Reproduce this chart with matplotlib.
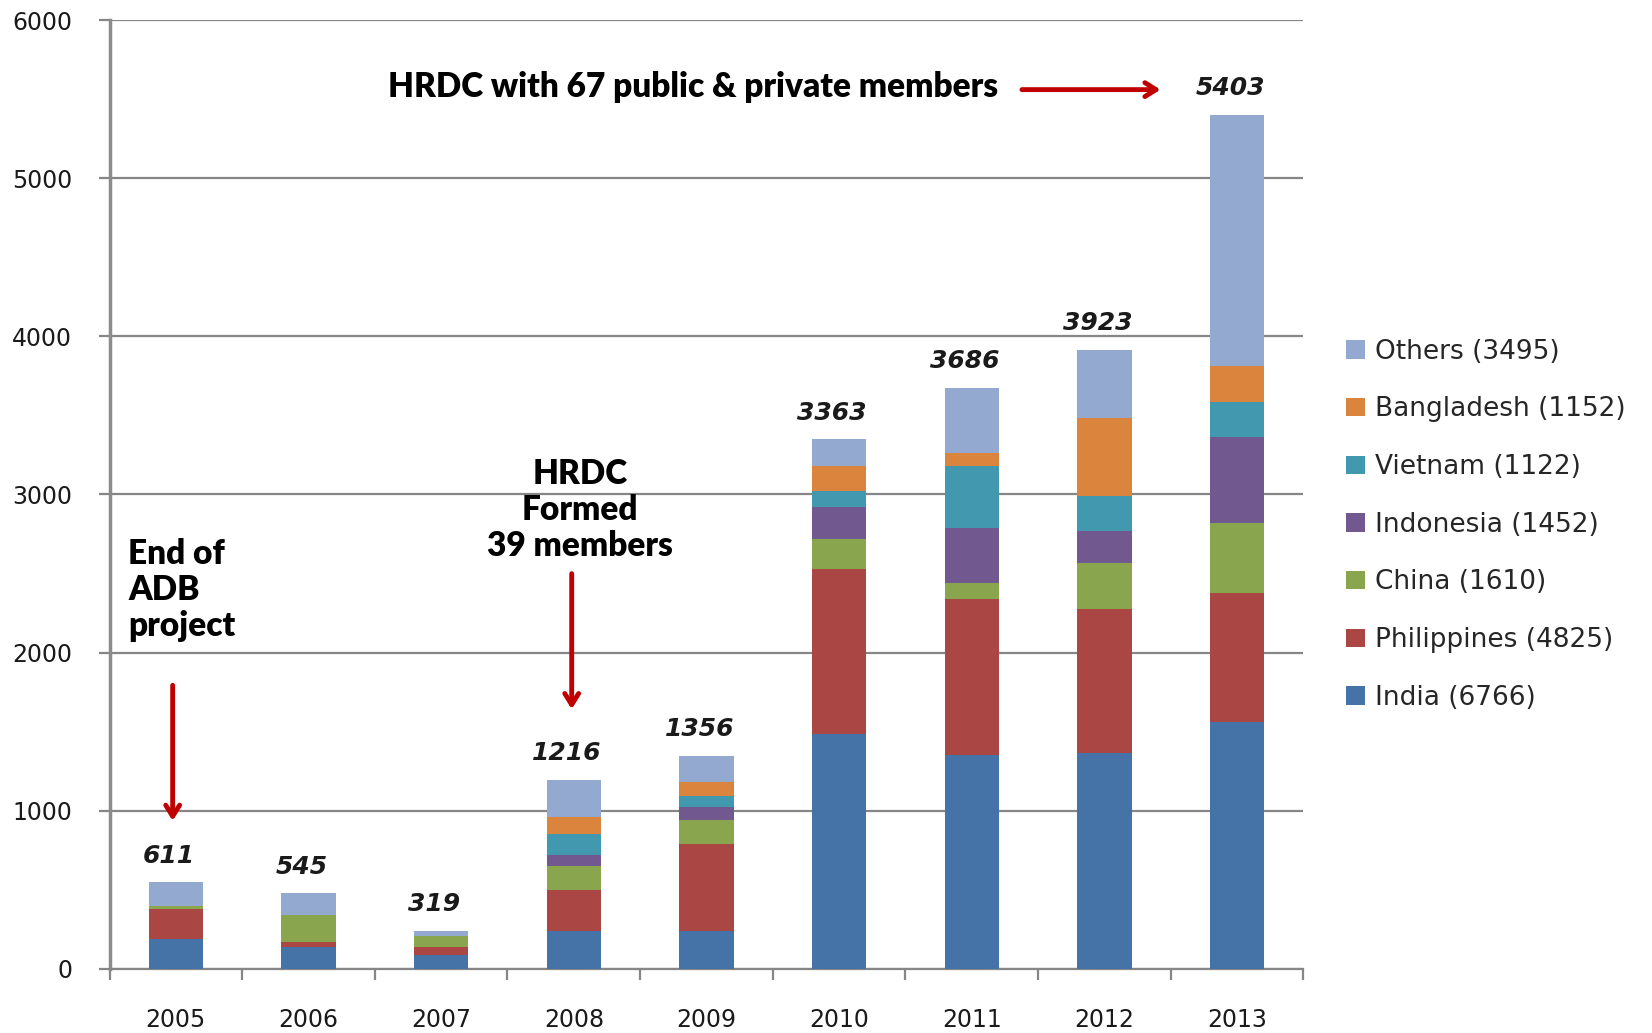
import matplotlib
matplotlib.use("Agg")
import matplotlib.pyplot as plt
import numpy as np

years = ["2005", "2006", "2007", "2008", "2009", "2010", "2011", "2012", "2013"]
totals_labels = ["611", "545", "319", "1216", "1356", "3363", "3686", "3923", "5403"]

india       = [190, 139, 86, 242, 242, 1485, 1354, 1367, 1559]
philippines = [189, 34, 53, 255, 546, 1044, 988, 907, 817]
china       = [17, 170, 67, 156, 151, 190, 99, 291, 444]
indonesia   = [0, 0, 0, 65, 85, 202, 344, 204, 546]
vietnam     = [0, 0, 0, 137, 67, 102, 394, 224, 220]
bangladesh  = [0, 0, 0, 103, 89, 156, 85, 491, 224]
others      = [152, 137, 36, 239, 168, 170, 412, 432, 1591]

series_names = ["India (6766)", "Philippines (4825)", "China (1610)", "Indonesia (1452)",
                "Vietnam (1122)", "Bangladesh (1152)", "Others (3495)"]
series_vals = [india, philippines, china, indonesia, vietnam, bangladesh, others]
colors = ["#4572A7", "#AA4643", "#89A54E", "#71588F", "#4198AF", "#DB843D", "#93A9CF"]

fig = plt.figure(figsize=(16.52, 10.33), dpi=100)
ax = fig.add_axes([0.0663, 0.062, 0.7227, 0.9186])

x = np.arange(len(years))
bottom = np.zeros(len(years))
handles = []
for name, vals, c in zip(series_names, series_vals, colors):
    v = np.array(vals, dtype=float)
    h = ax.bar(x, v, 0.41, bottom=bottom, color=c, label=name, zorder=3,
               edgecolor="none")
    handles.append(h)
    bottom += v

for xi, top, lab in zip(x, bottom, totals_labels):
    ax.annotate(lab, (xi, top), xytext=(-5, 19), textcoords="offset points",
                ha="center", va="center", fontsize=18, fontweight="bold",
                fontstyle="italic", color="#1a1a1a", family="DejaVu Sans")

ax.set_xlim(-0.5, len(years) - 0.5)
ax.set_ylim(0, 6000)
ax.set_yticks(np.arange(0, 6001, 1000))
ax.yaxis.grid(True, color="#868686", linewidth=1.6, zorder=0)
ax.set_axisbelow(True)

ax.set_xticks(x)
ax.set_xticklabels(years)
ax.set_xticks(np.arange(-0.5, len(years), 1.0), minor=True)
ax.tick_params(axis="x", which="major", length=0, pad=28, labelsize=17, labelcolor="#1a1a1a")
ax.tick_params(axis="x", which="minor", length=8, width=1.6, color="#868686", direction="out")
ax.tick_params(axis="y", length=8, width=1.6, color="#868686", labelsize=17,
               labelcolor="#1a1a1a", pad=19)

for s in ["top", "right"]:
    ax.spines[s].set_visible(False)
ax.spines["left"].set_color("#8c8c8c")
ax.spines["left"].set_linewidth(2.5)
ax.spines["bottom"].set_color("#868686")
ax.spines["bottom"].set_linewidth(1.6)

red = "#C00000"
arrow_kw = dict(arrowstyle="->,head_width=0.5,head_length=0.8", color=red, lw=3.5)
ax.annotate("", xy=(-0.024, 919), xytext=(-0.024, 1811), arrowprops=arrow_kw, zorder=5)
ax.annotate("", xy=(2.984, 1625), xytext=(2.984, 2517), arrowprops=arrow_kw, zorder=5)
ax.annotate("", xy=(7.444, 5560), xytext=(6.357, 5560), arrowprops=arrow_kw, zorder=5)

tfont = dict(family=["Lato", "DejaVu Sans"], fontweight="heavy", fontsize=24, color="black")
ax.text(-0.357, 2397, "End of\nADB\nproject", ha="left", va="center",
        linespacing=1.15, **tfont)
ax.text(3.048, 2903, "HRDC\nFormed\n39 members", ha="center", va="center",
        linespacing=1.15, **tfont)
ax.text(6.198, 5574, "HRDC with 67 public & private members", ha="right", va="center", **tfont)

leg = fig.legend(handles[::-1], series_names[::-1], loc="center left",
                 bbox_to_anchor=(0.815, 0.492), frameon=False, fontsize=19,
                 labelspacing=1.2, handlelength=0.7, handleheight=0.7,
                 handletextpad=0.4, labelcolor="#262626", borderaxespad=0, borderpad=0)

fig.savefig("out.png", dpi=100)
